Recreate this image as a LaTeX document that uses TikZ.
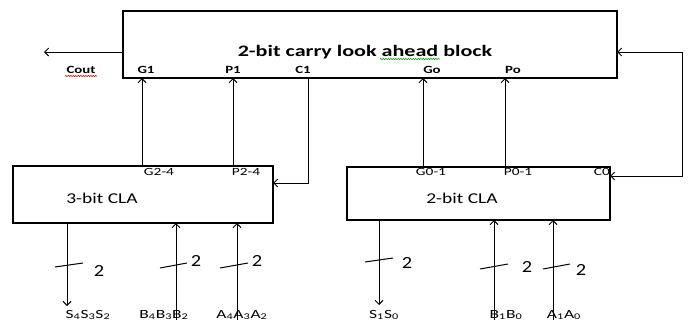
\documentclass[tikz,border=0pt]{standalone}
\usepackage{fontspec}
\setmainfont{Carlito}
\usepackage{graphicx}
\usetikzlibrary{arrows.meta,calc,decorations.pathmorphing}
\newcommand{\widetxt}[2][1.35]{\scalebox{#1}[1]{#2}}

\begin{document}
\begin{tikzpicture}[
  x=1pt, y=-1pt,
  block/.style={draw, line width=2.2pt, inner sep=0pt},
  port/.style={font=\fontsize{11}{12}\selectfont\bfseries, inner sep=0pt},
  subport/.style={font=\fontsize{11}{12}\selectfont, inner sep=0pt},
  wire/.style={line width=1pt, -{Straight Barb[length=4pt,width=8pt]}},
  slash/.style={line width=1pt},
  width label/.style={font=\fontsize{17}{18}\selectfont, inner sep=0pt},
  signal/.style={font=\fontsize{12.5}{14}\selectfont, inner sep=0pt}
  ]
  \useasboundingbox (0,0) rectangle (689,324);

  % carry look ahead block
  \node[block, minimum width=494, minimum height=67] (lab) at (370,44.5) {};
  \node[font=\fontsize{16}{19}\selectfont\bfseries] (title) at (365,52) {\widetxt[1.38]{2-bit carry look ahead block}};
  \node[port] (cout) at (81,70) {\widetxt{Cout}};
  \node[port] (g1) at (146,70) {\widetxt{G1}};
  \node[port] (p1) at (233,70) {\widetxt{P1}};
  \node[port] (c1) at (303,70) {\widetxt{C1}};
  \node[port] (go) at (432,70) {\widetxt{Go}};
  \node[port] (po) at (513,70) {\widetxt{Po}};
  \draw[red, line width=0.5pt, decorate, decoration={snake, amplitude=0.7pt, segment length=2.5pt}] (65,76) -- (97,76);
  \draw[green!60!black, line width=0.5pt, decorate, decoration={snake, amplitude=0.7pt, segment length=2.5pt}] (380,59) -- (440,59);

  % the two CLA blocks
  \node[block, minimum width=260, minimum height=57] (cla3) at (143,194.5) {};
  \node[font=\fontsize{15}{18}\selectfont] (cla3txt) at (102,198) {\widetxt[1.3]{3-bit CLA}};
  \node[subport] (g24) at (159,172) {\widetxt[1.4]{G2-4}};
  \node[subport] (p24) at (246,172) {\widetxt[1.4]{P2-4}};

  \node[block, minimum width=263, minimum height=53] (cla2) at (478.5,193.5) {};
  \node[font=\fontsize{15}{18}\selectfont] (cla2txt) at (462,198) {\widetxt[1.3]{2-bit CLA}};
  \node[subport] (g01) at (431,172) {\widetxt[1.4]{G0-1}};
  \node[subport] (p01) at (518,172) {\widetxt[1.4]{P0-1}};
  \node[subport] (c0) at (602,172) {\widetxt[1.4]{C0}};

  % ports on the block edges
  \coordinate (coutin) at (123,52);
  \coordinate (coutout) at (44,52);
  \coordinate (g1in) at (142,78);
  \coordinate (g24out) at (142,166);
  \coordinate (p1in) at (233,78);
  \coordinate (p24out) at (233,166);
  \coordinate (c1out) at (308,78);
  \coordinate (c1in) at (273,183);
  \coordinate (goin) at (423,78);
  \coordinate (g01out) at (423,167);
  \coordinate (poin) at (505,78);
  \coordinate (p01out) at (505,167);
  \coordinate (labin) at (617,52);
  \coordinate (turn) at (682,52);
  \coordinate (c0in) at (610,176);

  \draw[wire] (coutin) -- (coutout);
  \draw[wire] (g24out) -- (g1in);
  \draw[wire] (p24out) -- (p1in);
  \draw[wire] (c1out) |- (c1in);
  \draw[wire] (g01out) -- (goin);
  \draw[wire] (p01out) -- (poin);
  \draw[wire, {Straight Barb[length=4pt,width=8pt]}-{Straight Barb[length=4pt,width=8pt]}] (labin) -- (turn) |- (c0in);

  % buses of the 3-bit CLA
  \node[signal] (s3) at (88,315) {\widetxt[1.4]{S\textsubscript{4}S\textsubscript{3}S\textsubscript{2}}};
  \node[signal] (b3) at (164,315) {\widetxt[1.4]{B\textsubscript{4}B\textsubscript{3}B\textsubscript{2}}};
  \node[signal] (a3) at (242,315) {\widetxt[1.4]{A\textsubscript{4}A\textsubscript{3}A\textsubscript{2}}};
  \coordinate (s3out) at (67,223);
  \coordinate (s3end) at (67,306);
  \coordinate (b3start) at (176,320);
  \coordinate (b3in) at (176,223);
  \coordinate (a3start) at (237,320);
  \coordinate (a3in) at (237,223);
  \draw[wire] (s3out) -- (s3end);
  \draw[wire] (b3start) -- (b3in);
  \draw[wire] (a3start) -- (a3in);
  \draw[slash] (55,267) -- (83,263);
  \draw[slash] (160,268) -- (187,263);
  \draw[slash] (220,268) -- (248,263);
  \node[width label] (ws3) at (99,271) {\widetxt[1.2]{2}};
  \node[width label] (wb3) at (196,261) {\widetxt[1.2]{2}};
  \node[width label] (wa3) at (257,261) {\widetxt[1.2]{2}};

  % buses of the 2-bit CLA
  \node[signal] (s2) at (384,315) {\widetxt[1.4]{S\textsubscript{1}S\textsubscript{0}}};
  \node[signal] (b2) at (506,315) {\widetxt[1.4]{B\textsubscript{1}B\textsubscript{0}}};
  \node[signal] (a2) at (564,315) {\widetxt[1.4]{A\textsubscript{1}A\textsubscript{0}}};
  \coordinate (s2out) at (379,220);
  \coordinate (s2end) at (379,305);
  \coordinate (b2start) at (494,320);
  \coordinate (b2in) at (494,220);
  \coordinate (a2start) at (553,320);
  \coordinate (a2in) at (553,220);
  \draw[wire] (s2out) -- (s2end);
  \draw[wire] (b2start) -- (b2in);
  \draw[wire] (a2start) -- (a2in);
  \draw[slash] (365,262) -- (393,258);
  \draw[slash] (480,269) -- (508,264);
  \draw[slash] (543,269) -- (570,264);
  \node[width label] (ws2) at (407,263) {\widetxt[1.2]{2}};
  \node[width label] (wb2) at (527,267) {\widetxt[1.2]{2}};
  \node[width label] (wa2) at (581,270) {\widetxt[1.2]{2}};
\end{tikzpicture}
\end{document}
